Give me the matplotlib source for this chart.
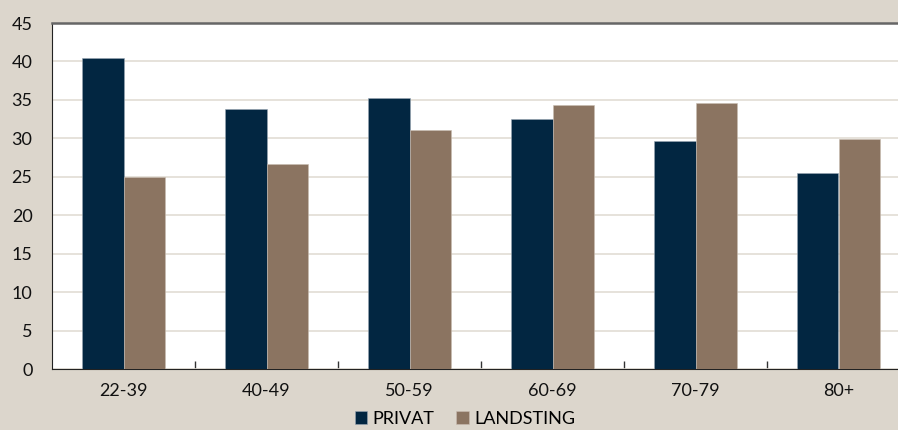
import numpy as np
import matplotlib.pyplot as plt

age_groups = ['22-39', '40-49', '50-59', '60-69', '70-79', '80+']
privat = [40.4, 33.8, 35.2, 32.5, 29.7, 25.5]
landsting = [25.0, 26.7, 31.1, 34.3, 34.6, 29.9]

plt.rcParams['font.family'] = ['Lato', 'DejaVu Sans']

bg = '#dcd6cc'
fig = plt.figure(figsize=(8.98, 4.30), dpi=100, facecolor=bg)
ax = fig.add_axes([52 / 898, 61 / 430, 858 / 898, 346 / 430])
ax.set_facecolor('white')

x = np.arange(len(age_groups))
w = 0.287
ax.bar(x - w / 2, privat, w, color='#022641', edgecolor='#9aa7b3', linewidth=0.4,
       label='PRIVAT', zorder=3)
ax.bar(x + w / 2, landsting, w, color='#8b7461', edgecolor='#c9bdb2', linewidth=0.4,
       label='LANDSTING', zorder=3)

ax.set_xlim(-0.5, len(age_groups) - 0.5)
ax.set_ylim(0, 45)
ax.set_yticks(range(0, 50, 5))
ax.yaxis.grid(True, color='#e2ddd4', linewidth=1.2, zorder=0)
ax.tick_params(axis='y', length=0, labelsize=13, pad=14, colors='#111111')

# category labels centred, separator ticks between groups
ax.set_xticks(x)
ax.set_xticklabels(age_groups)
ax.tick_params(axis='x', length=0, labelsize=13, pad=10, colors='#111111')
ax.set_xticks(np.arange(0.5, len(age_groups) - 0.5, 1), minor=True)
ax.tick_params(axis='x', which='minor', direction='in', length=6, width=1, color='#333333')

ax.spines['top'].set_color('#666666')
ax.spines['top'].set_linewidth(1.8)
ax.spines['left'].set_color('#222222')
ax.spines['bottom'].set_color('#222222')
ax.spines['right'].set_visible(False)

ax.legend(loc='upper center', bbox_to_anchor=(465 / 898, 32 / 430),
          bbox_transform=fig.transFigure, ncol=2, frameon=False, fontsize=13,
          handlelength=0.7, handleheight=0.7, handletextpad=0.3, columnspacing=1.2,
          borderpad=0.2)

fig.savefig('out.png', dpi=100, facecolor=bg)
